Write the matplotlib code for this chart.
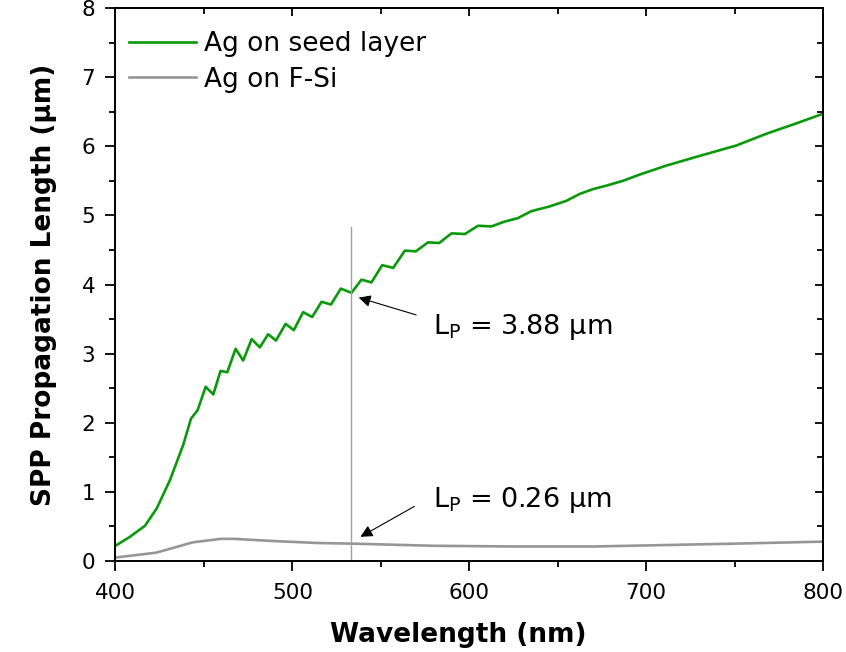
import matplotlib
matplotlib.use("Agg")
import matplotlib.pyplot as plt

plt.rcParams['font.family'] = ['DejaVu Sans']
plt.rcParams['mathtext.fontset'] = 'dejavusans'

# Ag on seed layer
wl_seed = [400, 408.2, 416.7, 423.3, 430.8, 438.3, 442.7, 446.4, 451.0, 455.3, 459.4, 463.2,
           467.9, 472.2, 477.0, 481.6, 486.3, 490.7, 496.2, 500.8, 506.1, 511.2, 516.5, 521.8,
           527.4, 533.4, 539.1, 544.7, 550.8, 557.0, 563.6, 569.8, 576.7, 583.0, 590.0, 597.5,
           605.0, 612.5, 620.0, 627.5, 635.0, 645.5, 654.9, 662.4, 670.0, 677.5, 686.9, 696.3,
           711.4, 730.2, 750.9, 767.9, 784.8, 800]
lp_seed = [0.22, 0.35, 0.51, 0.76, 1.17, 1.68, 2.06, 2.18, 2.52, 2.41, 2.75, 2.73,
           3.07, 2.90, 3.21, 3.09, 3.28, 3.19, 3.43, 3.34, 3.60, 3.53, 3.75, 3.71,
           3.94, 3.88, 4.07, 4.03, 4.28, 4.24, 4.49, 4.48, 4.61, 4.60, 4.74, 4.73,
           4.85, 4.84, 4.91, 4.96, 5.06, 5.13, 5.21, 5.31, 5.38, 5.43, 5.50, 5.59,
           5.72, 5.86, 6.01, 6.18, 6.33, 6.47]

# Ag on F-Si
wl_fsi = [400, 423, 443.8, 459.5, 467.3, 488.2, 514.3, 535.2, 579.5, 623.9, 670.8, 709.9, 749, 800]
lp_fsi = [0.05, 0.12, 0.27, 0.32, 0.32, 0.29, 0.26, 0.25, 0.22, 0.21, 0.21, 0.23, 0.25, 0.28]

marker_wl = 533.4
marker_top = 4.83
labels = ["Ag on seed layer", "Ag on F-Si"]
ann_texts = [r"L$_\mathregular{P}$ = 3.88 µm", r"L$_\mathregular{P}$ = 0.26 µm"]
ann_tips = [(537.5, 3.81), (538.5, 0.35)]
ann_tails = [(570.0, 3.56), (569.0, 0.79)]
ann_text_pos = [(579.5, 3.38), (579.5, 0.88)]

fig = plt.figure(figsize=(8.46, 6.52), dpi=100)
ax = fig.add_axes([0.1365, 0.1396, 0.9728 - 0.1365, 0.9877 - 0.1396])

ax.plot(wl_seed, lp_seed, color='#0a990a', lw=1.9, label=labels[0])
ax.plot(wl_fsi, lp_fsi, color='#969696', lw=1.9, label=labels[1])
ax.plot([marker_wl, marker_wl], [0, marker_top], color='#a0a0a0', lw=1.0)

for txt, tip, tail, tp in zip(ann_texts, ann_tips, ann_tails, ann_text_pos):
    ax.annotate('', xy=tip, xytext=tail,
                arrowprops=dict(arrowstyle='-|>', color='black', lw=0.8,
                                mutation_scale=18, shrinkA=0, shrinkB=0))
    ax.text(tp[0], tp[1], txt, fontsize=19.5, va='center', ha='left')

ax.set_xlim(400, 800)
ax.set_ylim(0, 8)
ax.set_xticks([400, 500, 600, 700, 800])
ax.set_xticks(range(400, 801, 50), minor=True)
ax.set_yticks(range(0, 9))
ax.set_yticks([i * 0.5 for i in range(17)], minor=True)

ax.tick_params(axis='both', which='major', labelsize=15.5, length=7.5, width=1.3, direction='out')
ax.tick_params(axis='both', which='minor', length=4, width=1.3, direction='out')
ax.tick_params(axis='x', which='major', pad=8)
ax.tick_params(axis='y', which='major', pad=7)

secx = ax.secondary_xaxis('top')
secx.set_xticks([400, 500, 600, 700, 800])
secx.set_xticks(range(400, 801, 50), minor=True)
secx.tick_params(which='major', direction='in', length=6, width=1.3, labeltop=False)
secx.tick_params(which='minor', direction='in', length=4, width=1.3)
secy = ax.secondary_yaxis('right')
secy.set_yticks(range(0, 9))
secy.set_yticks([i * 0.5 for i in range(17)], minor=True)
secy.tick_params(which='major', direction='in', length=6, width=1.3, labelright=False)
secy.tick_params(which='minor', direction='in', length=4, width=1.3)

for s in list(ax.spines.values()) + [secx.spines['top'], secy.spines['right']]:
    s.set_linewidth(1.4)

ax.set_xlabel("Wavelength (nm)", fontsize=19, fontweight='bold', labelpad=14)
ax.xaxis.label.set_x(0.484)
ax.set_ylabel("SPP Propagation Length (µm)", fontsize=19, fontweight='bold', labelpad=18)

ax.legend(loc='upper left', frameon=False, fontsize=19, handlelength=2.55,
          handletextpad=0.3, borderaxespad=0, labelspacing=0.35,
          bbox_to_anchor=(0.004, 0.977))

fig.savefig("out.png", dpi=100)
